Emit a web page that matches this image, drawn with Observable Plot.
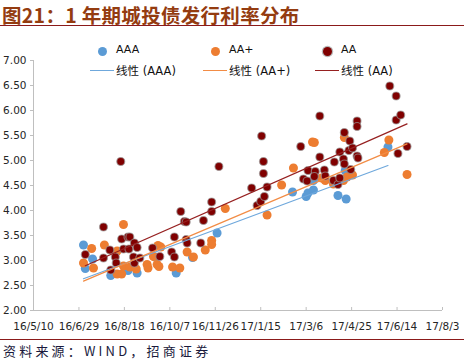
<!DOCTYPE html>
<html><head><meta charset="utf-8">
<script src="https://cdn.jsdelivr.net/npm/d3@7"></script>
<script src="https://cdn.jsdelivr.net/npm/@observablehq/plot@0.6"></script>
<style>
body{margin:0;background:#fff;}
#wrap{position:relative;width:464px;height:360px;overflow:hidden;background:#fff;font-family:"DejaVu Sans","Noto Sans CJK SC",sans-serif;}
#title{position:absolute;left:2px;top:0px;font-size:19.5px;font-weight:bold;color:#943c10;white-space:nowrap;font-family:"Noto Sans CJK SC","DejaVu Sans",sans-serif;letter-spacing:0.3px;}
#tline{position:absolute;left:0;top:25px;width:464px;height:0;border-top:1.5px solid #8b1a1a;}
#chart{position:absolute;left:0;top:40px;}
#legend{position:absolute;left:0;top:0;width:464px;height:360px;pointer-events:none;font-size:11px;color:#111;}
.li{position:absolute;white-space:nowrap;}
.dot{position:absolute;width:9px;height:9px;border-radius:50%;}
.lin{position:absolute;height:0;}
#fline{position:absolute;left:0;top:339px;width:464px;height:0;border-top:1.5px solid #8b1a1a;}
#foot{position:absolute;left:3px;top:341px;font-size:13px;color:#1a1a3c;white-space:nowrap;font-family:"Noto Sans CJK SC","DejaVu Sans",sans-serif;letter-spacing:3.2px;}
</style></head>
<body>
<div id="wrap">
<div id="title">图21：1 年期城投债发行利率分布</div>
<div id="tline"></div>
<div id="chart"></div>
<div id="legend"></div>
<div id="fline"></div>
<div id="foot">资料来源：WIND，招商证券</div>
</div>
<script>
const seriesNames = ["AAA", "AA+", "AA"];
const trendNames = ["线性 (AAA)", "线性 (AA+)", "线性 (AA)"];
const dotColors = ["#5b9bd5", "#ed7d31", "#800000"];
const lineColors = ["#6fa8dc", "#f28c45", "#962020"];

const xTickDates = ["2016-05-10","2016-06-29","2016-08-18","2016-10-07","2016-11-26","2017-01-15","2017-03-06","2017-04-25","2017-06-14","2017-08-03"];
const xTickLabels = ["16/5/10","16/6/29","16/8/18","16/10/7","16/11/26","17/1/15","17/3/6","17/4/25","17/6/14","17/8/3"];
const yTicks = [2.0, 2.5, 3.0, 3.5, 4.0, 4.5, 5.0, 5.5, 6.0, 6.5, 7.0];

const aaaDates = ["2016-07-04","2016-07-06","2016-07-14","2016-08-03","2016-08-22","2016-09-01","2016-09-21","2016-10-14","2016-11-01","2016-11-28","2017-02-19","2017-03-06","2017-03-08","2017-03-14","2017-03-14","2017-04-10","2017-04-19","2017-04-18","2017-06-04"];
const aaaValues = [3.31,2.84,3.03,2.70,2.80,2.75,3.07,2.75,3.06,3.55,4.37,4.28,4.35,4.41,4.60,4.30,4.23,4.80,5.27];

const aapDates = ["2016-07-04","2016-07-13","2016-07-15","2016-07-27","2016-08-10","2016-08-10","2016-08-15","2016-08-17","2016-08-17","2016-08-24","2016-08-31","2016-09-12","2016-09-13","2016-09-19","2016-09-23","2016-09-25","2016-09-24","2016-09-27","2016-10-10","2016-10-18","2016-10-26","2016-11-02","2016-11-15","2016-11-22","2016-11-22","2016-12-07","2017-01-22","2017-02-07","2017-02-20","2017-03-13","2017-03-15","2017-03-23","2017-03-27","2017-04-05","2017-04-10","2017-04-16","2017-04-17","2017-04-20","2017-04-26","2017-05-31","2017-06-05","2017-06-25"];
const aapValues = [2.95,3.24,2.85,3.31,3.19,2.73,2.73,3.72,2.89,2.87,2.83,2.92,2.85,3.08,2.92,2.88,3.30,3.27,2.87,2.85,3.17,3.07,3.21,3.40,3.32,4.04,3.91,4.51,4.85,5.37,5.36,4.65,4.60,4.53,4.59,4.60,5.46,4.67,4.71,5.16,5.41,4.72];

const aaDates = ["2016-07-06","2016-07-26","2016-07-26","2016-08-02","2016-08-03","2016-08-08","2016-08-09","2016-08-14","2016-08-15","2016-08-17","2016-08-22","2016-08-24","2016-08-23","2016-08-29","2016-09-01","2016-08-28","2016-08-29","2016-09-04","2016-09-18","2016-09-26","2016-10-09","2016-10-12","2016-10-12","2016-10-19","2016-10-23","2016-10-25","2016-10-25","2016-10-26","2016-11-10","2016-11-13","2016-11-22","2016-11-22","2016-11-30","2017-01-05","2017-01-11","2017-01-15","2017-01-19","2017-01-16","2017-01-18","2017-01-18","2017-01-22","2017-02-28","2017-03-03","2017-03-07","2017-03-08","2017-03-16","2017-03-15","2017-03-21","2017-03-21","2017-03-26","2017-03-27","2017-04-05","2017-04-06","2017-04-10","2017-04-12","2017-04-12","2017-04-16","2017-04-17","2017-04-17","2017-04-22","2017-04-23","2017-04-24","2017-04-26","2017-05-01","2017-05-01","2017-05-01","2017-05-02","2017-06-06","2017-06-13","2017-06-13","2017-06-18","2017-06-15","2017-06-25"];
const aaValues = [3.12,3.67,3.05,3.21,2.81,3.07,2.95,4.98,3.43,3.23,3.47,3.47,3.23,3.35,3.26,3.07,2.95,3.05,3.25,3.08,3.17,3.47,3.07,3.98,3.78,3.77,3.42,3.35,3.35,3.80,4.17,3.98,4.88,4.45,4.10,4.18,4.28,5.49,4.98,4.74,4.47,5.28,4.63,4.59,4.80,4.78,4.68,5.89,5.07,4.81,4.69,4.60,4.97,4.52,4.65,5.17,5.03,4.93,5.56,5.20,5.39,4.82,5.25,5.79,5.68,5.09,5.05,6.49,6.29,5.81,5.91,5.14,5.28];

const toRows = (dates, values) => dates.map((d, i) => ({date: new Date(d), value: values[i]}));
const sets = [toRows(aaaDates, aaaValues), toRows(aapDates, aapValues), toRows(aaDates, aaValues)];
const tickDates = xTickDates.map(d => new Date(d));
const labelOf = new Map(tickDates.map((d, i) => [+d, xTickLabels[i]]));

const chart = Plot.plot({
  width: 464, height: 300,
  marginLeft: 33, marginRight: 22, marginTop: 20, marginBottom: 30,
  style: {fontFamily: "DejaVu Sans, sans-serif", fontSize: "10.5px", color: "#262626", background: "transparent"},
  x: {type: "utc", domain: [tickDates[0], tickDates[tickDates.length - 1]], label: null},
  y: {domain: [2, 7], label: null},
  marks: [
    Plot.ruleY([2], {stroke: "#bfbfbf"}),
    Plot.ruleX([tickDates[0]], {stroke: "#bfbfbf"}),
    Plot.tickX(tickDates, {x: d => d, stroke: "#bfbfbf", insetTop: 247}),
    Plot.axisX({ticks: tickDates, tickFormat: d => labelOf.get(+d), tickSize: 0, tickPadding: 12, label: null}),
    Plot.axisY({ticks: yTicks, tickFormat: d3.format(".2f"), tickSize: 3, tickPadding: 4, stroke: "#bfbfbf", fill: "#262626", label: null}),
    Plot.dot(sets[0], {x: "date", y: "value", r: 4.5, fill: dotColors[0], stroke: "none"}),
    Plot.dot(sets[1], {x: "date", y: "value", r: 4.5, fill: dotColors[1], stroke: "none"}),
    Plot.dot(sets[2], {x: "date", y: "value", r: 4, fill: dotColors[2], stroke: "#9a9a9a", strokeWidth: 1.2, strokeOpacity: 0.7}),
    Plot.linearRegressionY(sets[0], {x: "date", y: "value", stroke: lineColors[0], strokeWidth: 1.2, ci: 0}),
    Plot.linearRegressionY(sets[1], {x: "date", y: "value", stroke: lineColors[1], strokeWidth: 1.2, ci: 0}),
    Plot.linearRegressionY(sets[2], {x: "date", y: "value", stroke: lineColors[2], strokeWidth: 1.2, ci: 0})
  ]
});
document.getElementById("chart").appendChild(chart);

// legend
const legend = document.getElementById("legend");
const colX = [102, 215, 327];
seriesNames.forEach((name, i) => {
  const dot = document.createElement("div");
  dot.className = "dot";
  dot.style.left = (colX[i] - 4.5) + "px";
  dot.style.top = (51 - 4.5) + "px";
  dot.style.background = dotColors[i];
  if (i === 2) dot.style.boxShadow = "0 0 0 1.2px rgba(154,154,154,0.7)";
  legend.appendChild(dot);
  const t = document.createElement("div");
  t.className = "li";
  t.style.left = (colX[i] + 14) + "px";
  t.style.top = (51 - 8) + "px";
  t.textContent = name;
  legend.appendChild(t);
  const ln = document.createElement("div");
  ln.className = "lin";
  ln.style.left = (colX[i] - 12) + "px";
  ln.style.width = "24px";
  ln.style.top = "70px";
  ln.style.borderTop = "1.3px solid " + lineColors[i];
  legend.appendChild(ln);
  const t2 = document.createElement("div");
  t2.className = "li";
  t2.style.left = (colX[i] + 14) + "px";
  t2.style.top = (70 - 8) + "px";
  t2.style.fontSize = "11.5px";
  t2.textContent = trendNames[i];
  legend.appendChild(t2);
});
</script>
</body></html>
